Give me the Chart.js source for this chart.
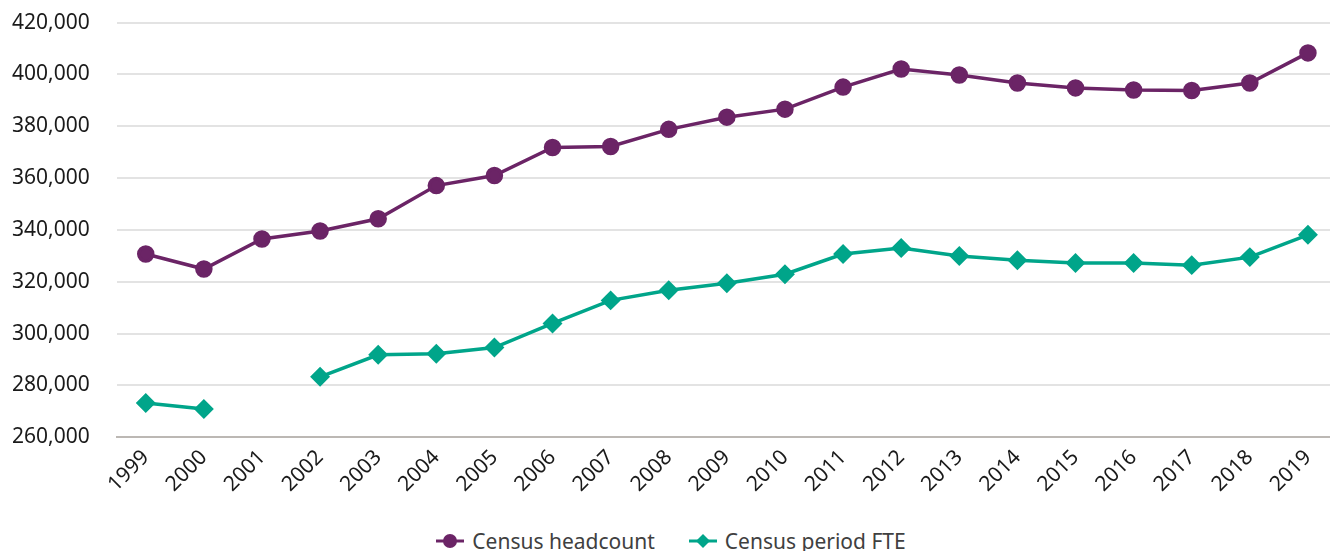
<!DOCTYPE html>
<html>
<head>
<meta charset="utf-8">
<script src="https://cdn.jsdelivr.net/npm/chart.js@4"></script>
<style>
  html, body { margin: 0; padding: 0; background: #fff; }
  #outer { position: relative; width: 1330px; height: 551px; overflow: hidden; }
  #wrap { position: absolute; left: -23px; top: -17px; width: 1371px; height: 522px; }
  #legend { position: absolute; left: 0; width: 1342px; top: 527px; height: 28px;
            display: flex; justify-content: center; align-items: center;
            font-family: 'Noto Sans', sans-serif; font-size: 21px; color: #404040; }
  .item { display: flex; align-items: center; margin: 0 17px; }
  .item svg { margin-right: 8px; }
</style>
</head>
<body>
<div id="outer">
  <div id="wrap"><canvas id="chartCensus"></canvas></div>
  <div id="legend"></div>
</div>
<script>
const years = ['1999', '2000', '2001', '2002', '2003', '2004', '2005', '2006', '2007', '2008', '2009',
    '2010', '2011', '2012', '2013', '2014', '2015', '2016', '2017', '2018', '2019'];
const headcount = [330700, 324900, 336500, 339600, 344300, 357100, 361000, 371800, 372200, 378800, 383500,
    386600, 395100, 402100, 399800, 396700, 394800, 394000, 393800, 396700, 408300];
const fte = [273200, 270900, null, 283300, 291800, 292200, 294600, 303900, 312800, 316700, 319400,
    322900, 330700, 333000, 329900, 328300, 327200, 327200, 326400, 329500, 338100];
const yMin = 260000;
const yMax = 420000;

const purple = '#6b2466';
const teal = '#00a58a';

const ctx = document.getElementById('chartCensus').getContext('2d');
const chart = new Chart(ctx, {
    type: 'line',
    data: {
        labels: years,
        datasets: [
            {
                label: 'Census headcount',
                data: headcount,
                borderColor: purple,
                backgroundColor: purple,
                borderWidth: 3.5,
                pointStyle: 'circle',
                pointRadius: 7,
                pointHoverRadius: 7,
                tension: 0
            },
            {
                label: 'Census period FTE',
                data: fte,
                borderColor: teal,
                backgroundColor: teal,
                borderWidth: 3.5,
                pointStyle: 'rectRot',
                pointRadius: 7.5,
                pointHoverRadius: 7.5,
                spanGaps: false,
                tension: 0
            }
        ]
    },
    options: {
        responsive: true,
        maintainAspectRatio: false,
        animation: false,
        layout: { padding: { left: 8, right: 0, top: 0, bottom: 0 } },
        scales: {
            x: {
                offset: true,
                grid: { display: false, drawTicks: false },
                border: { display: true, color: '#bcb8b4', width: 2 },
                ticks: {
                    color: '#1a1a1a',
                    font: { family: 'Noto Sans', size: 21 },
                    maxRotation: 45,
                    minRotation: 45,
                    padding: 8
                }
            },
            y: {
                min: yMin,
                max: yMax,
                grid: { color: '#e3e3e3', lineWidth: 2, drawTicks: false },
                border: { display: false },
                ticks: {
                    stepSize: 20000,
                    color: '#1a1a1a',
                    font: { family: 'Noto Sans', size: 21 },
                    padding: 27,
                    callback: v => v.toLocaleString('en-US')
                }
            }
        },
        plugins: {
            legend: { display: false },
            tooltip: { enabled: false }
        }
    }
});

// legend below the chart: line with marker, then the series name
const legendEl = document.getElementById('legend');
chart.data.datasets.forEach((ds, i) => {
    const marker = i === 0
        ? '<circle cx="14" cy="9" r="7" fill="' + ds.borderColor + '"/>'
        : '<path d="M14 2 L21 9 L14 16 L7 9 Z" fill="' + ds.borderColor + '"/>';
    const item = document.createElement('div');
    item.className = 'item';
    item.innerHTML = '<svg width="28" height="18"><line x1="0" y1="9" x2="28" y2="9" stroke="' +
        ds.borderColor + '" stroke-width="3"/>' + marker + '</svg><span>' + ds.label + '</span>';
    legendEl.appendChild(item);
});
</script>
</body>
</html>
